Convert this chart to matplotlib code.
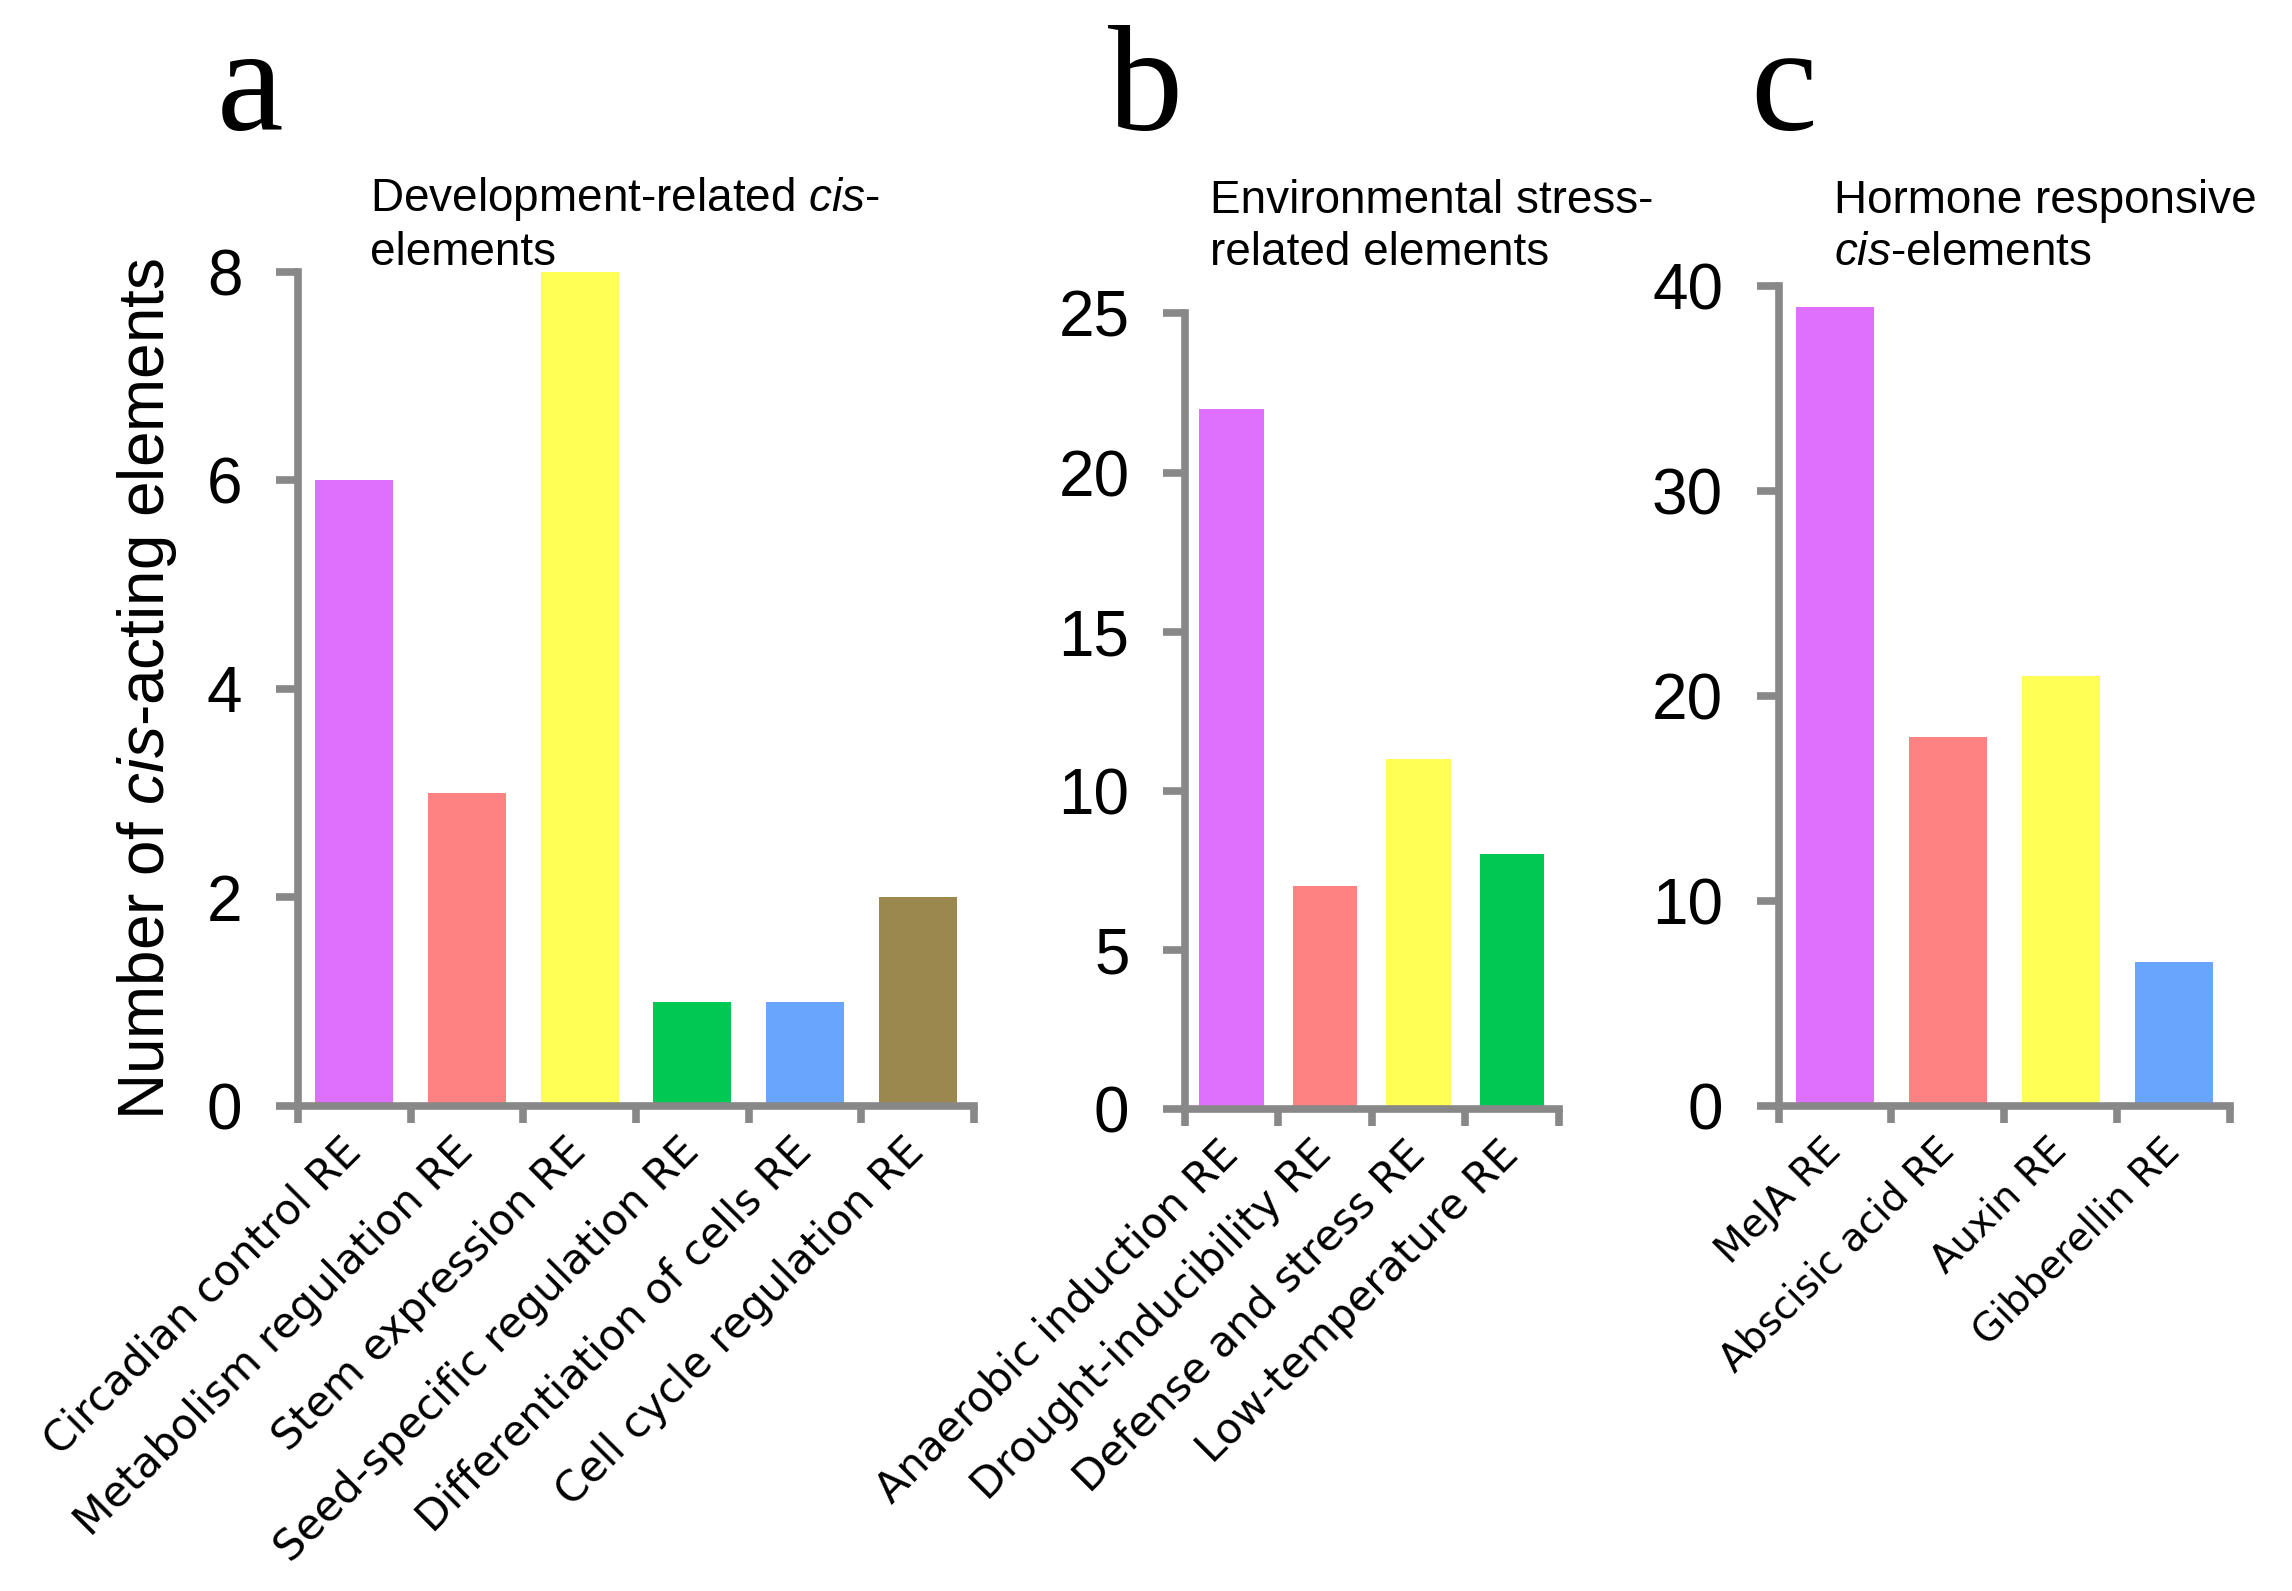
import matplotlib.pyplot as plt
import numpy as np

plt.rcParams['font.family'] = ['Liberation Sans', 'DejaVu Sans']
plt.rcParams['mathtext.fontset'] = 'custom'
plt.rcParams['mathtext.rm'] = 'Liberation Sans'
plt.rcParams['mathtext.it'] = 'Liberation Sans:italic'

# data
dev_labels = ['Circadian control RE', 'Metabolism regulation RE', 'Stem expression RE',
              'Seed-specific regulation RE', 'Differentiation of cells RE', 'Cell cycle regulation RE']
dev_counts = [6, 3, 8, 1, 1, 2]
env_labels = ['Anaerobic induction RE', 'Drought-inducibility RE', 'Defense and stress RE',
              'Low-temperature RE']
env_counts = [22, 7, 11, 8]
hor_labels = ['MeJA RE', 'Abscisic acid RE', 'Auxin RE', 'Gibberellin RE']
hor_counts = [39, 18, 21, 7]

purple = '#df70fd'
salmon = '#ff8282'
yellow = '#ffff55'
green = '#00c853'
blue = '#6aa5fd'
olive = '#9a884f'
grey = '#888888'

fig = plt.figure(figsize=(22.92, 15.91), dpi=100)


def panel(rect, labels, counts, colors, ymax, step, lab_size):
    ax = fig.add_axes(rect)
    n = len(counts)
    x = np.arange(n)
    ax.bar(x, counts, width=0.69, color=colors)
    ax.set_xlim(-0.5, n - 0.5)
    ax.set_ylim(0, ymax)
    for s in ['top', 'right']:
        ax.spines[s].set_visible(False)
    for s in ['left', 'bottom']:
        ax.spines[s].set_color(grey)
        ax.spines[s].set_linewidth(5.5)
    ax.set_yticks(np.arange(0, ymax + step, step))
    ax.tick_params(axis='y', direction='out', length=16, width=5.5, color=grey,
                   pad=24, labelsize=46)
    ax.set_xticks(np.arange(n + 1) - 0.5)
    ax.set_xticklabels([])
    ax.tick_params(axis='x', which='major', direction='out', length=12, width=5.5, color=grey)
    ax.set_xticks(x, labels, minor=True)
    ax.tick_params(axis='x', which='minor', length=0, pad=28)
    for t in ax.get_xticklabels(minor=True):
        t.set_rotation(45)
        t.set_ha('right')
        t.set_va('center')
        t.set_rotation_mode('anchor')
        t.set_fontfamily('DejaVu Sans')
        t.set_fontsize(lab_size)
    return ax


ax_a = panel([0.130, 0.305, 0.295, 0.524], dev_labels, dev_counts,
             [purple, salmon, yellow, green, blue, olive], 8, 2, 30.5)
ax_b = panel([0.517, 0.303, 0.163, 0.500], env_labels, env_counts,
             [purple, salmon, yellow, green], 25, 5, 30.5)
ax_c = panel([0.776, 0.305, 0.197, 0.515], hor_labels, hor_counts,
             [purple, salmon, yellow, blue], 40, 10, 28)

fig.text(0.064, 0.567, 'Number of $\\mathit{cis}$-acting elements', rotation=90,
         ha='center', va='center', fontsize=46)

fig.text(0.1615, 0.8334, 'Development-related $\\mathit{cis}$-\nelements', fontsize=33,
         ha='left', va='baseline', linespacing=1.25)
fig.text(0.528, 0.8334, 'Environmental stress-\nrelated elements', fontsize=33,
         ha='left', va='baseline', linespacing=1.25)
fig.text(0.800, 0.8334, 'Hormone responsive\n$\\mathit{cis}$-elements', fontsize=33,
         ha='left', va='baseline', linespacing=1.25)

for xx, letter in [(0.109, 'a'), (0.500, 'b'), (0.778, 'c')]:
    fig.text(xx, 0.918, letter, fontsize=108, family='Liberation Serif',
             ha='center', va='baseline')

fig.savefig('out.png', dpi=100)
